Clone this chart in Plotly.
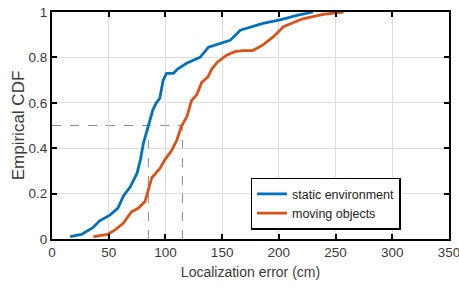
import plotly.graph_objects as go

# static environment CDF
static_x = [16, 26, 36, 42, 51, 58, 63, 69, 75, 78, 80.5, 85, 89, 92, 95, 98, 101, 107, 111, 119,
            130.5, 138, 148, 157, 166, 175, 186, 201, 216, 230]
static_y = [0.01, 0.02, 0.05, 0.08, 0.105, 0.135, 0.19, 0.23, 0.29, 0.35, 0.42, 0.495, 0.57, 0.6,
            0.62, 0.70, 0.73, 0.73, 0.75, 0.775, 0.80, 0.845, 0.86, 0.875, 0.92, 0.935, 0.95,
            0.965, 0.985, 1.0]

# moving objects CDF
moving_x = [36.5, 49, 55.6, 63, 70, 76, 82, 85, 88, 95, 99.6, 105.5, 110, 114, 119, 123, 127.6,
            132, 137.6, 141, 146, 154, 161, 168, 177, 186, 195, 204, 221, 239, 257]
moving_y = [0.01, 0.02, 0.04, 0.07, 0.12, 0.135, 0.165, 0.215, 0.27, 0.31, 0.35, 0.39, 0.435,
            0.495, 0.54, 0.61, 0.635, 0.69, 0.715, 0.75, 0.78, 0.81, 0.825, 0.83, 0.83, 0.855,
            0.89, 0.935, 0.97, 0.99, 1.0]

median_level = 0.5
median_static = 85
median_moving = 115

x_ticks = [0, 50, 100, 150, 200, 250, 300, 350]
y_ticks = [0, 0.2, 0.4, 0.6, 0.8, 1]
y_tick_labels = ["0", "0.2", "0.4", "0.6", "0.8", "1"]

BLUE = "#0072BD"
ORANGE = "#D95319"
FONT = "Liberation Sans, Arial, sans-serif"
TXT = "#3a3a3a"

fig = go.Figure()
fig.add_trace(go.Scatter(x=static_x, y=static_y, mode="lines", name="static environment",
                         line=dict(color=BLUE, width=2.8)))
fig.add_trace(go.Scatter(x=moving_x, y=moving_y, mode="lines", name="moving objects",
                         line=dict(color=ORANGE, width=2.8)))

dash = dict(color="#8c8c8c", width=1, dash="dash")
fig.add_shape(type="line", x0=0, x1=median_moving, y0=median_level, y1=median_level,
              xref="x", yref="y", line=dash, layer="below")
for xv in (median_static, median_moving):
    fig.add_shape(type="line", x0=xv, x1=xv, y0=0, y1=median_level,
                  xref="x", yref="y", line=dash, layer="below")

axis_common = dict(
    showline=True, linecolor="black", linewidth=2, mirror="allticks",
    ticks="inside", ticklen=5, tickwidth=1.5, tickcolor="black",
    showgrid=True, gridcolor="#dcdcdc", gridwidth=1, zeroline=False,
    tickfont=dict(family=FONT, size=13.5, color=TXT),
    automargin=False, ticklabeloverflow="allow",
)

fig.update_layout(
    width=459, height=295,
    margin=dict(l=52, r=10, t=12, b=56),
    paper_bgcolor="white", plot_bgcolor="white",
    font=dict(family=FONT, color=TXT),
    xaxis=dict(range=[0, 350], tickvals=x_ticks, **axis_common,
               title=dict(text="Localization error (cm)", font=dict(family=FONT, size=14, color=TXT),
                          standoff=8)),
    yaxis=dict(range=[0, 1], tickvals=y_ticks, ticktext=y_tick_labels, **axis_common,
               title=dict(text="Empirical CDF", font=dict(family=FONT, size=17, color=TXT),
                          standoff=0)),
    legend=dict(x=0.5, y=0.27, xanchor="left", yanchor="top",
                bgcolor="white", bordercolor="black", borderwidth=1.5,
                font=dict(family=FONT, size=12.5, color="#222222"),
                itemwidth=30, tracegroupgap=0),
    showlegend=True,
)

fig.write_html("out.html", config={"displayModeBar": False},
               post_script="document.body.style.margin='0px';document.body.style.overflow='hidden';")
